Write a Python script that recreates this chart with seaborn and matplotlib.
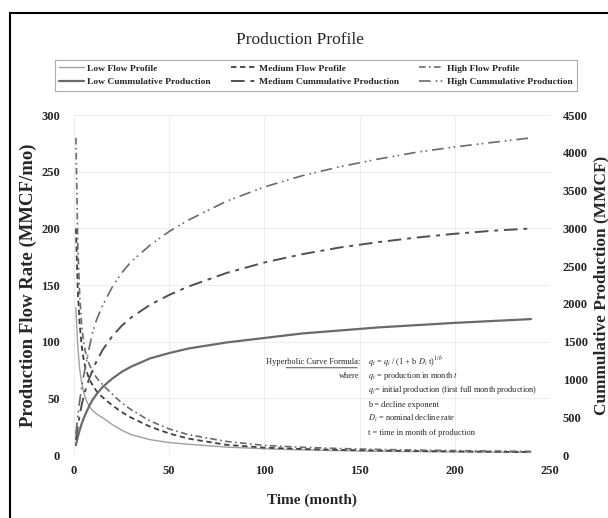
import numpy as np
import pandas as pd
import matplotlib.pyplot as plt
import seaborn as sns
from matplotlib.patches import Rectangle

# Values (months, MMCF/mo and MMCF)
months = [1, 2, 3, 4, 5, 6, 8, 10, 12, 15, 20, 25, 30, 40, 50, 60,
          80, 100, 120, 140, 160, 180, 200, 220, 240]

low_flow = [130, 95, 76, 64, 56, 50, 43, 39, 36, 33, 27, 22, 18, 13.5, 11, 9.5,
            7, 5.5, 4.5, 3.8, 3.3, 3.0, 2.7, 2.5, 2.3]
medium_flow = [200, 145, 115, 97, 85, 77, 67, 61, 56, 51, 44, 38, 33, 25, 19, 14.5,
               9, 6.5, 5.3, 4.5, 3.9, 3.5, 3.2, 2.9, 2.7]
high_flow = [280, 185, 140, 115, 100, 91, 80, 73, 68, 62, 54, 46, 40, 30, 23, 18,
             12, 8.5, 6.8, 5.7, 4.9, 4.4, 3.9, 3.5, 3.2]

low_cum = [130, 240, 330, 410, 480, 540, 650, 740, 810, 900, 1010, 1100, 1170, 1280,
           1350, 1410, 1490, 1550, 1610, 1650, 1690, 1720, 1750, 1775, 1800]
medium_cum = [200, 380, 530, 660, 770, 860, 1010, 1140, 1250, 1390, 1570, 1710, 1820,
              1990, 2120, 2230, 2410, 2550, 2660, 2750, 2820, 2880, 2930, 2970, 3000]
high_cum = [280, 520, 720, 890, 1040, 1170, 1420, 1650, 1800, 1980, 2220, 2410, 2560,
            2780, 2960, 3110, 3360, 3550, 3700, 3820, 3920, 4010, 4080, 4140, 4200]

x_ticks = [0, 50, 100, 150, 200, 250]
left_ticks = [0, 50, 100, 150, 200, 250, 300]
right_ticks = [0, 500, 1000, 1500, 2000, 2500, 3000, 3500, 4000, 4500]

formula_lines = [
    ("Hyperbolic Curve Formula:", r"$q_t$ = $q_i$ / (1 + b $D_i$ t)$^{1/b}$"),
    ("where", r"$q_t$ = production in month $t$"),
    ("", r"$q_i$= initial production (first full month production)"),
    ("", "b = decline exponent"),
    ("", r"$D_i$ = nominal decline rate"),
    ("", "t = time in month of production"),
]

df = pd.DataFrame({'Month': months,
                   'Low Flow': low_flow, 'Medium Flow': medium_flow, 'High Flow': high_flow,
                   'Low Cum': low_cum, 'Medium Cum': medium_cum, 'High Cum': high_cum})

sns.set_style('white')
plt.rcParams['font.family'] = ['Liberation Serif', 'DejaVu Serif']
plt.rcParams['mathtext.fontset'] = 'stix'

fig = plt.figure(figsize=(6.08, 5.18), dpi=100)
ax = fig.add_axes([0.1217, 0.1216, 0.783, 0.656])
ax2 = ax.twinx()

# flow profiles (left axis)
sns.lineplot(data=df, x='Month', y='Low Flow', ax=ax, color='#a0a0a0', lw=1.0,
             label='Low Flow Profile', legend=False)
sns.lineplot(data=df, x='Month', y='Medium Flow', ax=ax, color='#404040', lw=1.3,
             linestyle=(0, (3, 2)), label='Medium Flow Profile', legend=False)
sns.lineplot(data=df, x='Month', y='High Flow', ax=ax, color='#6a6a6a', lw=1.2,
             linestyle=(0, (4, 2, 1, 2)), label='High Flow Profile', legend=False)

# cumulative production (right axis)
sns.lineplot(data=df, x='Month', y='Low Cum', ax=ax2, color='#6a6a6a', lw=1.6,
             label='Low Cummulative Production', legend=False)
sns.lineplot(data=df, x='Month', y='Medium Cum', ax=ax2, color='#505050', lw=1.4,
             linestyle=(0, (7, 3, 2, 3)), label='Medium Cummulative Production', legend=False)
sns.lineplot(data=df, x='Month', y='High Cum', ax=ax2, color='#6a6a6a', lw=1.2,
             linestyle=(0, (7, 3, 1, 2, 1, 3)), label='High Cummulative Production', legend=False)

ax.set_xlim(0, 250)
ax.set_ylim(0, 300)
ax2.set_ylim(0, 4500)
ax.set_xticks(x_ticks)
ax.set_yticks(left_ticks)
ax2.set_yticks(right_ticks)
ax.grid(True, color='#ededed', lw=0.8)
ax2.grid(False)
for a in (ax, ax2):
    for s in a.spines.values():
        s.set_visible(False)
    a.tick_params(length=0, labelsize=9)
    for t in a.get_xticklabels() + a.get_yticklabels():
        t.set_fontweight('bold')
ax.tick_params(axis='y', pad=10)
ax.tick_params(axis='x', pad=7)
ax2.tick_params(axis='y', pad=9)

ax.set_xlabel('Time (month)', fontsize=11, fontweight='bold', labelpad=12)
ax.set_ylabel('Production Flow Rate (MMCF/mo)', fontsize=13.5, fontweight='bold', labelpad=3)
ax2.set_ylabel('Cummulative Production (MMCF)', fontsize=12.4, fontweight='bold', labelpad=4)

fig.text(0.493, 0.923, 'Production Profile', ha='center', va='center', fontsize=12.5)

# legend, rows: flow / cumulative
h1, l1 = ax.get_legend_handles_labels()
h2, l2 = ax2.get_legend_handles_labels()
handles = [h1[0], h2[0], h1[1], h2[1], h1[2], h2[2]]
labels = [l1[0], l2[0], l1[1], l2[1], l1[2], l2[2]]
leg = fig.legend(handles, labels, ncol=3, loc='center', bbox_to_anchor=(0.52, 0.855),
                 frameon=True, fancybox=False, edgecolor='#999999', fontsize=6.8,
                 handlelength=2.6, handletextpad=0.4, columnspacing=2.1,
                 borderpad=0.45, labelspacing=0.55)
leg.get_frame().set_linewidth(0.8)
for t in leg.get_texts():
    t.set_fontweight('bold')

# formula note
y0 = 0.301
for i, (left, right) in enumerate(formula_lines):
    yy = y0 - i * 0.0274
    if left:
        fig.text(0.592, yy, left, ha='right', va='center', fontsize=6)
        if i == 0:
            ax.annotate('', xy=(0.592, yy - 0.011), xytext=(0.466, yy - 0.011),
                        xycoords='figure fraction',
                        arrowprops=dict(arrowstyle='-', lw=0.6, color='#333333'))
    fig.text(0.605, yy, right, ha='left', va='center', fontsize=6)

# outer frame
fig.patches.append(Rectangle((0.017, -0.01), 1.0, 0.985, transform=fig.transFigure,
                             fill=False, edgecolor='black', lw=1.5))

fig.savefig('out.png', dpi=100)
